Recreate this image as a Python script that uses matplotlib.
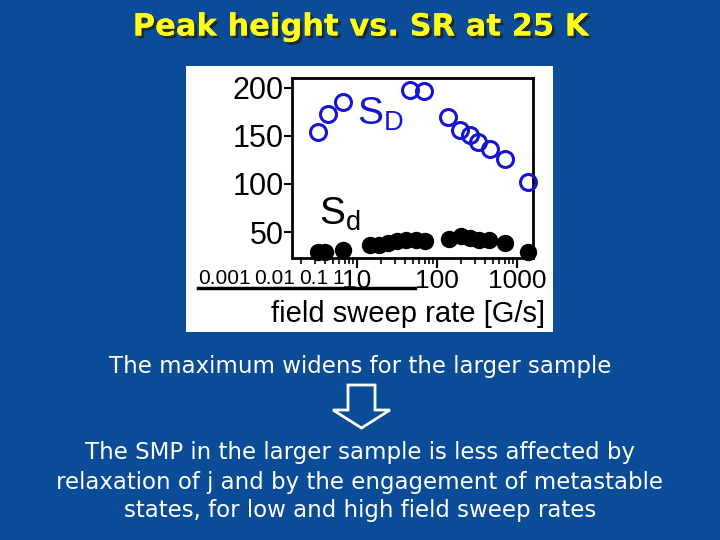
import matplotlib
matplotlib.use('Agg')
import matplotlib.pyplot as plt
import matplotlib.patheffects as pe
from matplotlib.patches import Polygon
from matplotlib.lines import Line2D
from matplotlib.ticker import FixedLocator, NullFormatter, LogLocator

# ---- data ----
sweep_rate_D = [3.3, 4.3, 6.7, 46, 69, 138, 194, 259, 328, 460, 708, 1385]
peak_D = [154, 173, 185, 198, 196, 170, 156, 151, 144, 136, 126, 102]
sweep_rate_d = [3.3, 4.0, 6.7, 14.5, 18.8, 24.7, 31.6, 41, 54.6, 70.8,
                141, 200, 262, 339, 453, 708, 1372]
peak_d = [29.5, 29.5, 31, 37, 37, 39, 40.5, 42, 42, 41,
          42.3, 45.7, 43.3, 41.6, 41.6, 38.1, 29.4]
y_ticks = [50, 100, 150, 200]
x_ticks = [10, 100, 1000]
x_tick_labels = ['10', '100', '1000']
extra_x_labels = ['0.001', '0.01', '0.1', '1']
x_label = 'field sweep rate [G/s]'
title = 'Peak height vs. SR at 25 K'
line1 = 'The maximum widens for the larger sample'
para = ['The SMP in the larger sample is less affected by',
        'relaxation of j and by the engagement of metastable',
        'states, for low and high field sweep rates']

BG = '#0a4c98'
NARROW = ['Liberation Sans', 'DejaVu Sans']

W, H = 720, 540
fig = plt.figure(figsize=(7.2, 5.4), dpi=100, facecolor=BG)

def fx(px):
    return px / W

def fy(py):
    return 1 - py / H

# white panel behind the chart
panel = fig.add_axes([fx(186), fy(332), fx(553) - fx(186), fy(66) - fy(332)], zorder=-1)
panel.set_facecolor('white')
panel.set_xticks([])
panel.set_yticks([])
for s in panel.spines.values():
    s.set_visible(False)

ax = fig.add_axes([fx(292), fy(258), fx(533) - fx(292), fy(78) - fy(258)], zorder=1)
ax.set_facecolor('white')
ax.set_xscale('log')
ax.set_xlim(1.54, 1585)
ax.set_ylim(23, 210)

ax.plot(sweep_rate_D, peak_D, linestyle='none', marker='o', markersize=11.5,
        markerfacecolor='none', markeredgecolor='#1414d2', markeredgewidth=2.2,
        clip_on=False, zorder=3)
ax.plot(sweep_rate_d, peak_d, linestyle='none', marker='o', markersize=11.5,
        markerfacecolor='black', markeredgecolor='black', clip_on=False, zorder=3)

for s in ax.spines.values():
    s.set_linewidth(2)

ax.yaxis.set_major_locator(FixedLocator(y_ticks))
ax.set_yticklabels([str(v) for v in y_ticks], family=NARROW, fontsize=22)
ax.xaxis.set_major_locator(FixedLocator(x_ticks))
ax.set_xticklabels(x_tick_labels, family=NARROW, fontsize=19)
ax.xaxis.set_minor_locator(LogLocator(base=10, subs=range(2, 10)))
ax.xaxis.set_minor_formatter(NullFormatter())
ax.tick_params(axis='y', direction='out', length=6, width=1.5, pad=0)
ax.tick_params(axis='x', which='major', direction='out', length=7, width=1.5, pad=1)
ax.tick_params(axis='x', which='minor', direction='out', length=4, width=1.2)
ax.set_xlabel(x_label, family=NARROW, fontsize=21)
ax.xaxis.set_label_coords(0.48, -0.235)

ax.text(0.365, 0.80, r'$\mathregular{S_D}$', transform=ax.transAxes, color='#1414d2',
        fontsize=28, family=NARROW, ha='center', va='center')
ax.text(0.20, 0.24, r'$\mathregular{S_d}$', transform=ax.transAxes, color='black',
        fontsize=28, family=NARROW, ha='center', va='center')

# squeezed tick labels at the lower left of the chart
for xp, s in zip([224, 275, 314, 338], extra_x_labels):
    fig.text(fx(xp), fy(278), s, family=NARROW, fontsize=15, color='black',
             ha='center', va='center')
fig.add_artist(Line2D([fx(198), fx(415)], [fy(288), fy(288)], color='black',
                      linewidth=2.5, transform=fig.transFigure))

# title with shadow
fig.text(0.5, fy(27), title, color='#ffff1a', fontsize=22, fontweight='bold',
         ha='center', va='center',
         path_effects=[pe.withSimplePatchShadow(offset=(2, -2), shadow_rgbFace='#202020',
                                                alpha=0.8), pe.Normal()])

fig.text(0.5, fy(366), line1, color='white', fontsize=16.5, ha='center', va='center')
for i, ln in enumerate(para):
    fig.text(0.5, fy(453 + 29 * i), ln, color='white', fontsize=16.5,
             ha='center', va='center')

# hollow down arrow
arrow_px = [(348, 385), (375, 385), (375, 410), (390, 410), (361.5, 428),
            (333, 410), (348, 410)]
fig.patches.append(Polygon([(fx(a), fy(b)) for a, b in arrow_px], closed=True,
                           transform=fig.transFigure, facecolor='none',
                           edgecolor='white', linewidth=2))

fig.savefig('out.png', dpi=100, facecolor=BG)
